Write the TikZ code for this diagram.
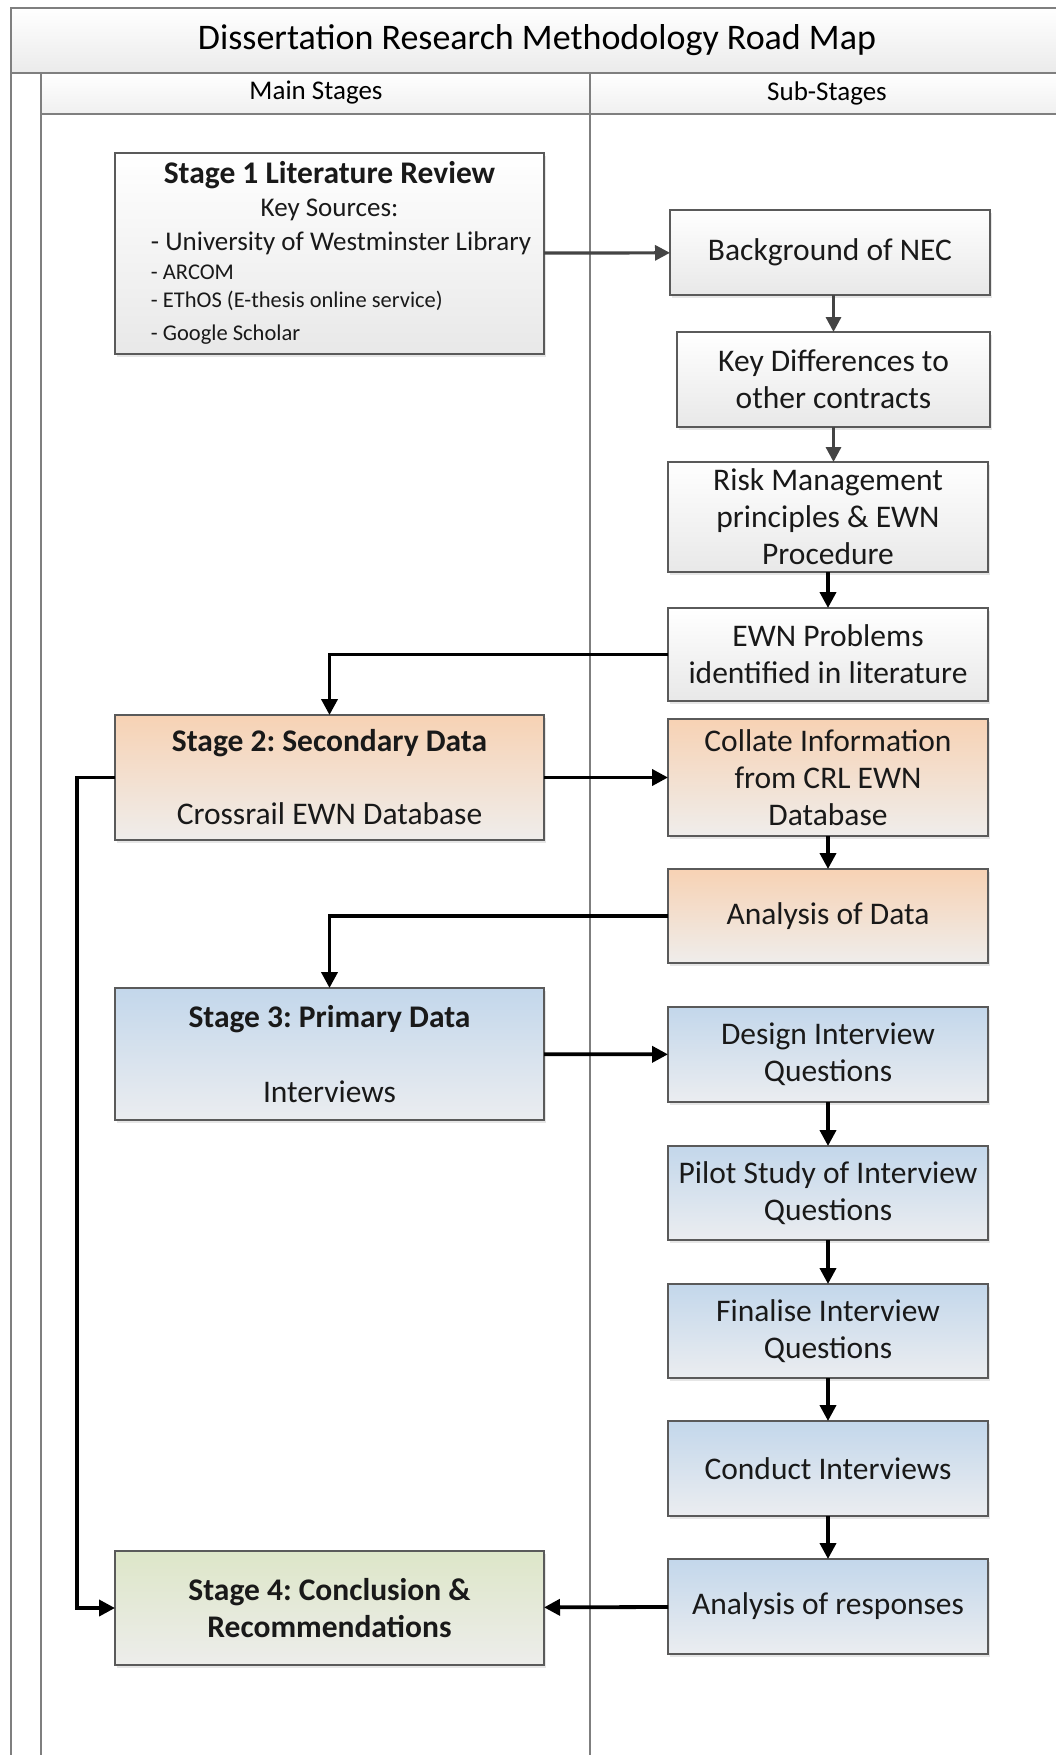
\documentclass[tikz,border=0pt]{standalone}
\usepackage{fontspec}
\setmainfont{Carlito}
\usetikzlibrary{arrows.meta,positioning,shadows}
\frenchspacing

\definecolor{frameline}{HTML}{7F7F7F}
\definecolor{boxline}{HTML}{5A5A5A}
\definecolor{greyarrow}{HTML}{444444}
\definecolor{peachtop}{HTML}{F7D2B4}
\definecolor{peachbot}{HTML}{EFEDEB}
\definecolor{bluetop}{HTML}{C3D7EB}
\definecolor{bluebot}{HTML}{EBEDF0}
\definecolor{greentop}{HTML}{DDE6C8}
\definecolor{greenbot}{HTML}{EDEDEB}

\tikzset{
  box/.style={draw=boxline, line width=1.4pt, align=center, inner sep=0pt,
    outer sep=0pt, minimum width=320, text=black!90,
    drop shadow={shadow xshift=2pt, shadow yshift=-3pt, opacity=0.2},
    font=\fontsize{31.5}{37}\selectfont},
  plainbox/.style={box, top color=white, bottom color=black!9},
  peachbox/.style={box, top color=peachtop, bottom color=peachbot},
  bluebox/.style={box, top color=bluetop, bottom color=bluebot},
  greenbox/.style={box, top color=greentop, bottom color=greenbot},
  stagebox/.style={minimum width=429},
  flow/.style={-{Triangle[length=16pt,width=16pt]}, line width=3.8pt},
  greyflow/.style={-{Triangle[length=15pt,width=15pt]}, line width=3.2pt, draw=greyarrow, fill=greyarrow}
}

\begin{document}
\begin{tikzpicture}[x=1pt, y=1pt]
\useasboundingbox (0,0) rectangle (1055,-1755);

% Frame
\shade[top color=white, bottom color=black!8] (11,-8) rectangle (1070,-73);
\shade[top color=white, bottom color=black!6] (41,-73) rectangle (1070,-114);
\draw[frameline, line width=1.5pt] (11,-1770) -- (11,-8) -- (1070,-8);
\draw[frameline, line width=1.5pt] (11,-73) -- (1070,-73);
\draw[frameline, line width=1.5pt] (41,-1770) -- (41,-73);
\draw[frameline, line width=1.5pt] (590,-1770) -- (590,-73);
\draw[frameline, line width=1.5pt] (41,-114) -- (1070,-114);
\node (title) at (537,-40) {\fontsize{36}{42}\selectfont Dissertation Research Methodology Road Map};
\node (mainhead) at (316,-93) {\fontsize{27}{30}\selectfont Main Stages};
\node (subhead) at (827,-93) {\fontsize{27}{30}\selectfont Sub-Stages};

% Stage 1
\node (stage1) [plainbox, stagebox, minimum height=201] at (329.5,-253.5) {%
  \renewcommand{\arraystretch}{0}%
  \begin{tabular}{@{\hspace{23pt}}l@{}}
  \multicolumn{1}{@{}c@{}}{\fontsize{31.5}{37}\selectfont\bfseries\rule[-8pt]{0pt}{32pt}Stage 1 Literature Review}\\
  \multicolumn{1}{@{}c@{}}{\fontsize{27}{32}\selectfont\rule[-8pt]{0pt}{33pt}Key Sources:}\\
  \fontsize{27}{32}\selectfont\rule[-8pt]{0pt}{34pt}- University of Westminster Library\\
  \fontsize{22.5}{28}\selectfont\rule[-8pt]{0pt}{29pt}- ARCOM\\
  \fontsize{22.5}{28}\selectfont\rule[-8pt]{0pt}{28pt}- EThOS (E-thesis online service)\\
  \fontsize{22.5}{28}\selectfont\rule[-8pt]{0pt}{33pt}- Google Scholar
  \end{tabular}};

\node (nec)     [plainbox, minimum height=85]  at (830,-252.5) {Background of NEC};
\node (keydiff) [plainbox, minimum width=313, minimum height=95] at (833.5,-379.5) {Key Differences to\\other contracts};
\node (risk)    [plainbox, minimum height=110] at (828,-517) {Risk Management\\principles \& EWN\\Procedure};
\node (problems)[plainbox, minimum height=93]  at (828,-654.5) {EWN Problems\\identified in literature};

% Stage 2
\node (stage2)  [peachbox, stagebox, minimum height=125] at (329.5,-777.5) {%
  {\bfseries Stage 2: Secondary Data}\\[36pt]Crossrail EWN Database};
\node (collate) [peachbox, minimum height=117] at (828,-777.5) {Collate Information\\from CRL EWN\\Database};
\node (analysis)[peachbox, minimum height=94]  at (828,-916) {Analysis of Data};

% Stage 3
\node (stage3)  [bluebox, stagebox, minimum height=132] at (329.5,-1054) {%
  {\bfseries Stage 3: Primary Data}\\[38pt]Interviews};
\node (design)  [bluebox, minimum height=95] at (828,-1054.5) {Design Interview\\Questions};
\node (pilot)   [bluebox, minimum height=94, below=44pt of design]   {Pilot Study of Interview\\Questions};
\node (finalise)[bluebox, minimum height=94, below=44pt of pilot]    {Finalise Interview\\Questions};
\node (conduct) [bluebox, minimum height=95, below=43pt of finalise] {Conduct Interviews};
\node (responses)[bluebox, minimum height=95, below=43pt of conduct] {Analysis of responses};

% Stage 4
\node (stage4)  [greenbox, stagebox, minimum height=114] at (329.5,-1608) {%
  \bfseries Stage 4: Conclusion \&\\\bfseries Recommendations};

\coordinate (bend) at (77,-777.5);

% Edges
\draw[greyflow] (stage1) -- (nec);
\draw[greyflow] (nec.south -| keydiff.north) -- (keydiff.north);
\draw[greyflow] (keydiff.south -| 833.5,0) -- (833.5,-462);
\draw[flow] (risk) -- (problems);
\draw[flow] (problems.west) -| (stage2.north);
\draw[flow] (stage2) -- (collate);
\draw[flow] (collate) -- (analysis);
\draw[flow] (analysis.west) -| (stage3.north);
\draw[flow] (stage3) -- (design);
\draw[flow] (design) -- (pilot);
\draw[flow] (pilot) -- (finalise);
\draw[flow] (finalise) -- (conduct);
\draw[flow] (conduct) -- (responses);
\draw[flow] (responses) -- (stage4);
\draw[flow] (stage2.west) -- (bend) |- (stage4.west);

\end{tikzpicture}
\end{document}
